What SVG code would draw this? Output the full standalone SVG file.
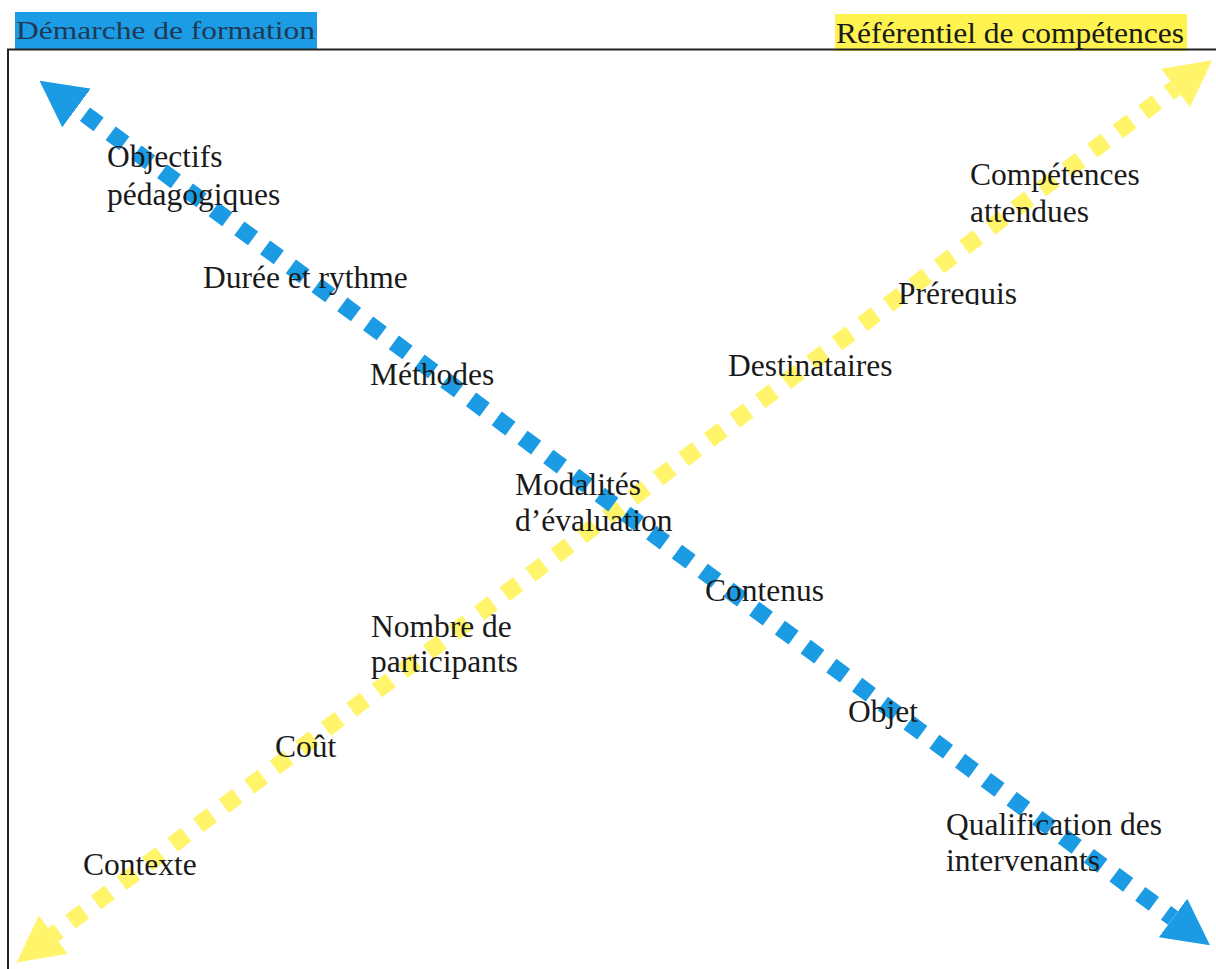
<svg xmlns="http://www.w3.org/2000/svg" width="1216" height="969" viewBox="0 0 1216 969">
<style>
.lbl{font-family:"Liberation Serif","Times New Roman",serif;font-size:31.5px;fill:#1a1a1a}
.h1{font-family:"Liberation Serif","Times New Roman",serif;font-size:25px;fill:#1f3a55}
.h2{font-family:"Liberation Serif","Times New Roman",serif;font-size:30px;fill:#1a1a1a}
.blue{stroke:#1a9be3;stroke-width:17;stroke-dasharray:17 15;fill:none}
.yel{stroke:#fff46a;stroke-width:17;stroke-dasharray:17 15;fill:none}
</style>
<defs>
<marker id="hb" markerUnits="userSpaceOnUse" viewBox="0 0 46 48" refX="0" refY="24" markerWidth="46" markerHeight="48" orient="auto-start-reverse"><path d="M0,0 L46,24 L0,48 z" fill="#1a9be3"/></marker>
<marker id="hy" markerUnits="userSpaceOnUse" viewBox="0 0 46 48" refX="0" refY="24" markerWidth="46" markerHeight="48" orient="auto-start-reverse"><path d="M0,0 L46,24 L0,48 z" fill="#fff46a"/></marker>
<clipPath id="clipPre"><rect x="890" y="270" width="150" height="35"/></clipPath>
</defs>
<rect width="1216" height="969" fill="#ffffff"/>
<g id="headers">
<rect x="15" y="12" width="302" height="37" fill="#1d9ce6"/>
<text class="h1" x="16" y="39" textLength="299" lengthAdjust="spacingAndGlyphs">Démarche de formation</text>
<rect x="835" y="14" width="352" height="37" fill="#fff44f"/>
<text class="h2" x="836" y="43" textLength="348" lengthAdjust="spacingAndGlyphs">Référentiel de compétences</text>
</g>
<g id="frame"><path d="M8,969 V49.5 H1216" fill="none" stroke="#222" stroke-width="2"/></g>
<g id="connectors">
<line class="yel" x1="53.3" y1="934.7" x2="1175.5" y2="88" stroke-dashoffset="10.5" marker-start="url(#hy)" marker-end="url(#hy)"/>
<line class="blue" x1="76.5" y1="108" x2="1173" y2="918" stroke-dashoffset="21.5" marker-start="url(#hb)" marker-end="url(#hb)"/>
</g>
<g id="n-objectifs"><text class="lbl" x="107" y="167">Objectifs</text><text class="lbl" x="107" y="205">pédagogiques</text></g>
<g id="n-duree"><text class="lbl" x="203" y="288">Durée et rythme</text></g>
<g id="n-methodes"><text class="lbl" x="370" y="385">Méthodes</text></g>
<g id="n-modalites"><text class="lbl" x="515" y="495">Modalités</text><text class="lbl" x="515" y="531">d’évaluation</text></g>
<g id="n-contenus"><text class="lbl" x="705" y="601">Contenus</text></g>
<g id="n-objet"><text class="lbl" x="848" y="722">Objet</text></g>
<g id="n-qualification"><text class="lbl" x="946" y="835">Qualification des</text><text class="lbl" x="946" y="871">intervenants</text></g>
<g id="n-competences"><text class="lbl" x="970" y="185">Compétences</text><text class="lbl" x="970" y="222">attendues</text></g>
<g id="n-prerequis"><text class="lbl" x="898" y="304" clip-path="url(#clipPre)">Prérequis</text></g>
<g id="n-destinataires"><text class="lbl" x="728" y="376">Destinataires</text></g>
<g id="n-nombre"><text class="lbl" x="371" y="637">Nombre de</text><text class="lbl" x="371" y="672">participants</text></g>
<g id="n-cout"><text class="lbl" x="275" y="757">Coût</text></g>
<g id="n-contexte"><text class="lbl" x="83" y="875">Contexte</text></g>
</svg>
